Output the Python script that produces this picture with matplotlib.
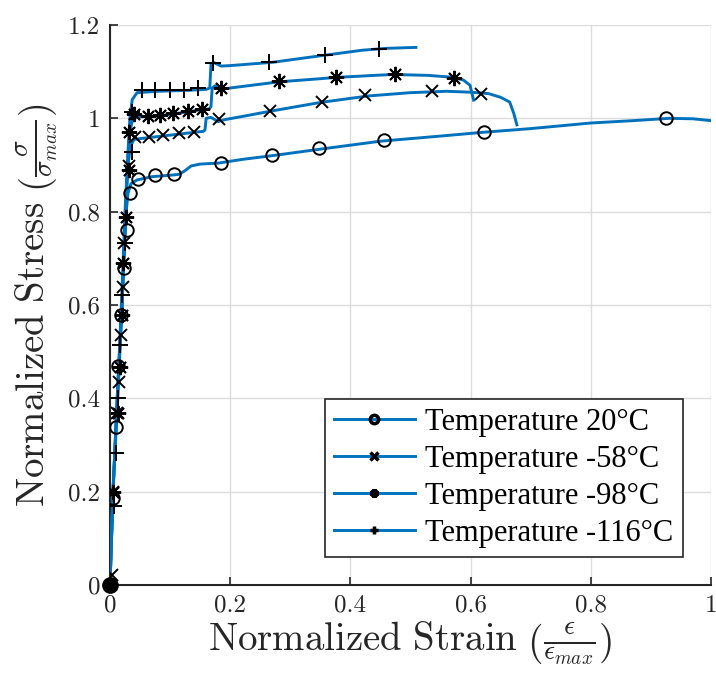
import numpy as np
import matplotlib
matplotlib.use('Agg')
import matplotlib.pyplot as plt
from matplotlib.lines import Line2D
from matplotlib.ticker import FuncFormatter

plt.rcParams['mathtext.fontset'] = 'cm'
plt.rcParams['font.family'] = 'serif'
plt.rcParams['font.serif'] = ['cmr10', 'DejaVu Serif']
plt.rcParams['axes.formatter.use_mathtext'] = True

BLUE = '#0072BD'
DARK = '#262626'

# --- line data (normalized strain, normalized stress) ---
t20_x = [0, 0.005, 0.012, 0.02, 0.027, 0.03, 0.035, 0.045, 0.07, 0.1, 0.115, 0.125, 0.135,
         0.15, 0.18, 0.22, 0.27, 0.35, 0.45, 0.55, 0.62, 0.7, 0.8, 0.87, 0.93, 0.97, 1.0]
t20_y = [0, 0.2, 0.4, 0.6, 0.8, 0.84, 0.86, 0.868, 0.875, 0.878, 0.88, 0.888, 0.898,
         0.902, 0.904, 0.912, 0.92, 0.934, 0.951, 0.962, 0.97, 0.978, 0.99, 0.995, 1.0, 0.999, 0.995]

t58_x = [0, 0.005, 0.012, 0.02, 0.026, 0.03, 0.034, 0.04, 0.06, 0.1, 0.14, 0.155, 0.158, 0.16,
         0.168, 0.18, 0.19, 0.22, 0.27, 0.35, 0.43, 0.5, 0.56, 0.6, 0.63, 0.65, 0.665, 0.672, 0.677]
t58_y = [0, 0.2, 0.4, 0.6, 0.8, 0.9, 0.94, 0.955, 0.958, 0.964, 0.97, 0.972, 0.975, 1.0,
         1.002, 0.993, 0.997, 1.004, 1.016, 1.034, 1.048, 1.055, 1.058, 1.056, 1.053, 1.045, 1.035, 1.01, 0.986]

t98_x = [0, 0.005, 0.013, 0.02, 0.026, 0.03, 0.033, 0.037, 0.045, 0.08, 0.12, 0.15, 0.165, 0.168,
         0.17, 0.175, 0.185, 0.2, 0.28, 0.38, 0.47, 0.53, 0.57, 0.588, 0.599, 0.605]
t98_y = [0, 0.2, 0.4, 0.6, 0.8, 0.92, 0.97, 0.995, 1.003, 1.005, 1.012, 1.018, 1.02, 1.025,
         1.065, 1.07, 1.062, 1.065, 1.078, 1.088, 1.094, 1.092, 1.088, 1.082, 1.071, 1.039]

t116_x = [0, 0.005, 0.012, 0.019, 0.025, 0.03, 0.033, 0.037, 0.045, 0.08, 0.13, 0.16, 0.166,
          0.168, 0.172, 0.185, 0.2, 0.27, 0.35, 0.42, 0.46, 0.509]
t116_y = [0, 0.2, 0.4, 0.6, 0.8, 0.93, 1.0, 1.04, 1.055, 1.058, 1.06, 1.062, 1.065,
          1.115, 1.12, 1.112, 1.113, 1.12, 1.134, 1.146, 1.15, 1.152]

# --- marker positions ---
m20_x = [0.0055, 0.010, 0.014, 0.018, 0.023, 0.028, 0.033, 0.046, 0.075, 0.106, 0.184, 0.27,
         0.348, 0.456, 0.623, 0.925]
m20_y = [0.186, 0.339, 0.47, 0.579, 0.679, 0.761, 0.839, 0.871, 0.878, 0.881, 0.905, 0.921,
         0.936, 0.953, 0.971, 1.001]

m58_x = [0.003, 0.0045, 0.011, 0.015, 0.018, 0.022, 0.024, 0.032, 0.042, 0.065, 0.089, 0.115,
         0.139, 0.182, 0.266, 0.352, 0.425, 0.535, 0.617]
m58_y = [0.021, 0.2, 0.368, 0.436, 0.536, 0.638, 0.732, 0.898, 0.959, 0.961, 0.964, 0.968,
         0.971, 0.998, 1.016, 1.036, 1.05, 1.058, 1.053]

m98_x = [0.0055, 0.014, 0.0166, 0.0194, 0.022, 0.0266, 0.032, 0.032, 0.040, 0.064, 0.084, 0.105,
         0.129, 0.153, 0.184, 0.282, 0.376, 0.474, 0.572]
m98_y = [0.2, 0.368, 0.468, 0.579, 0.689, 0.789, 0.889, 0.971, 1.009, 1.005, 1.007, 1.011,
         1.016, 1.021, 1.066, 1.079, 1.089, 1.096, 1.086]

m116_x = [0.0067, 0.010, 0.0138, 0.0166, 0.0194, 0.025, 0.036, 0.036, 0.053, 0.075, 0.1, 0.123,
          0.147, 0.172, 0.265, 0.358, 0.448]
m116_y = [0.169, 0.282, 0.4, 0.514, 0.621, 0.732, 0.928, 1.014, 1.061, 1.061, 1.061, 1.061,
          1.064, 1.118, 1.121, 1.136, 1.148]

labels = ['Temperature 20°C', 'Temperature -58°C', 'Temperature -98°C', 'Temperature -116°C']
markers = ['o', 'x', (8, 2, 0), '+']
msizes = [9, 8, 11, 12]

lines = [(t20_x, t20_y), (t58_x, t58_y), (t98_x, t98_y), (t116_x, t116_y)]
marks = [(m20_x, m20_y), (m58_x, m58_y), (m98_x, m98_y), (m116_x, m116_y)]

fig = plt.figure(figsize=(7.16, 6.79), dpi=100)
ax = fig.add_axes([110 / 716, 1 - 585 / 679, 601 / 716, 560 / 679])

for (lx, ly) in lines:
    ax.plot(lx, ly, color=BLUE, lw=2.1, zorder=3)
for (mx, my), mk, ms in zip(marks, markers, msizes):
    ax.plot(mx, my, linestyle='none', marker=mk, ms=ms, mfc='none', mec='black', mew=1.4, zorder=4)

# origin point
ax.plot([0], [0], 'o', color='black', ms=11, clip_on=False, zorder=5)

ax.set_xlim(0, 1)
ax.set_ylim(0, 1.2)
ax.set_xticks(np.arange(0, 1.01, 0.2))
ax.set_yticks(np.arange(0, 1.21, 0.2))
fmt = FuncFormatter(lambda v, p: '%g' % round(v, 2))
ax.xaxis.set_major_formatter(fmt)
ax.yaxis.set_major_formatter(fmt)
ax.tick_params(direction='in', length=6, width=1.2, labelsize=18, colors=DARK, pad=7)
ax.grid(True, color='#dcdcdc', lw=1.0)
ax.set_axisbelow(True)
for s in ['top', 'right']:
    ax.spines[s].set_visible(False)
for s in ['left', 'bottom']:
    ax.spines[s].set_color(DARK)
    ax.spines[s].set_linewidth(1.5)

ax.set_xlabel(r'$\mathrm{Normalized\ Strain}\ \left(\frac{\epsilon}{\epsilon_{max}}\right)$',
              fontsize=28, color=DARK, labelpad=2)
ax.set_ylabel(r'$\mathrm{Normalized\ Stress}\ \left(\frac{\sigma}{\sigma_{max}}\right)$',
              fontsize=28, color=DARK, labelpad=6)

handles = [Line2D([], [], color=BLUE, lw=2.1, marker=mk, ms=6, mfc='none', mec='black', mew=2.5)
           for mk in markers]
leg = ax.legend(handles, labels, loc='lower right', bbox_to_anchor=(0.953, 0.05),
                prop={'family': 'Liberation Serif', 'size': 22}, frameon=True, fancybox=False,
                edgecolor=DARK, framealpha=1, handlelength=2.65, handletextpad=0.35,
                borderpad=0.3, labelspacing=0.26, borderaxespad=0)
leg.get_frame().set_linewidth(1.2)

fig.savefig('out.png', dpi=100)
